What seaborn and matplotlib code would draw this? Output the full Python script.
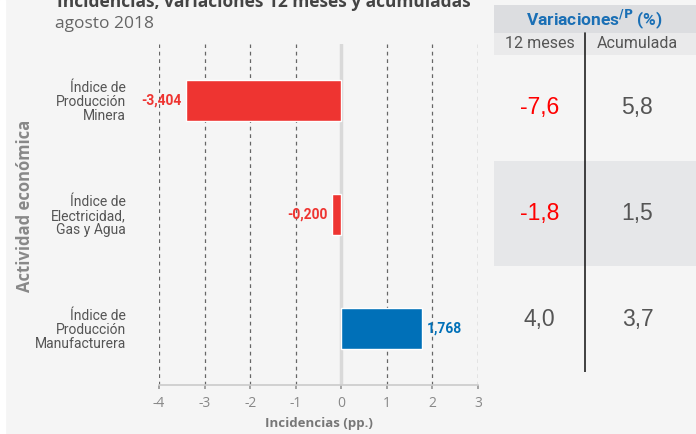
import numpy as np
import pandas as pd
import matplotlib.pyplot as plt
import seaborn as sns

sns.set_theme(style="white")
plt.rcParams['font.family'] = ['Open Sans', 'DejaVu Sans']
plt.rcParams['axes.unicode_minus'] = False

categorias = ['Índice de\nProducción\nMinera',
              'Índice de\nElectricidad,\nGas y Agua',
              'Índice de\nProducción\nManufacturera']
incidencias = [-3.404, -0.200, 1.768]
var_12m = [-7.6, -1.8, 4.0]
var_acum = [5.8, 1.5, 3.7]
xticks = [-4, -3, -2, -1, 0, 1, 2, 3]

FONDO = '#f5f5f5'
ROJO = '#ee3431'
AZUL = '#0070b8'
ESTRECHA = ['Liberation Sans Narrow', 'Roboto', 'DejaVu Sans']


def coma(v, d):
    return f"{v:.{d}f}".replace('.', ',')


df = pd.DataFrame({'Actividad': categorias, 'Incidencia': incidencias})
colores = [ROJO if v < 0 else AZUL for v in incidencias]

W, H = 696, 434
fig = plt.figure(figsize=(W / 100, H / 100), dpi=100)
fig.patch.set_facecolor(FONDO)
fig.patches.append(plt.Rectangle((0, 0), 5 / W, 1, transform=fig.transFigure,
                                 color='white', zorder=0))

# --- grafico de barras ---
ax = fig.add_axes([159 / W, 1 - 385 / H, (478 - 159) / W, (385 - 44) / H])
ax.set_facecolor(FONDO)
sns.barplot(data=df, x='Incidencia', y='Actividad', hue='Actividad',
            palette=colores, width=0.36, orient='h', legend=False,
            saturation=1, ax=ax, zorder=2)
ax.set_xlim(-4, 3)
ax.set_ylim(2.5, -0.5)

for t in xticks:
    if t == 0:
        ax.axvline(t, color='#d9d9d9', lw=2.5, zorder=1)
    else:
        ax.axvline(t, color='#666666', lw=0.9, ls=(0, (3, 3)), zorder=0)

for i, v in enumerate(incidencias):
    if v < 0:
        ax.text(v - 0.1, i, coma(v, 3), ha='right', va='center', color=ROJO,
                fontweight='bold', fontsize=10, family=ESTRECHA, zorder=3)
    else:
        ax.text(v + 0.1, i, coma(v, 3), ha='left', va='center', color=AZUL,
                fontweight='bold', fontsize=10, family=ESTRECHA, zorder=3)

for s in ['top', 'right', 'left']:
    ax.spines[s].set_visible(False)
ax.spines['bottom'].set_color('#cccccc')
ax.set_xticks(xticks)
ax.set_xticklabels([str(t) for t in xticks])
ax.tick_params(axis='x', bottom=True, length=3, color='#999999',
               labelcolor='#888888', labelsize=10, pad=5)
ax.tick_params(axis='y', length=0, pad=24, labelsize=10, labelcolor='#555555')
for lbl in ax.get_yticklabels():
    lbl.set_family(ESTRECHA)
    lbl.set_linespacing(1.0)
    lbl.set_ha('right')
ax.set_ylabel('')
ax.set_xlabel('Incidencias (pp.)', fontweight='bold', color='#777777',
              fontsize=9.5, labelpad=4)

fig.text(25 / W, 1 - 206 / H, 'Actividad económica', rotation=90,
         ha='center', va='center', fontweight='bold', color='#888888',
         fontsize=12)

# --- titulo ---
fig.text(57 / W, 1 - 7 / H, 'Incidencias, variaciones 12 meses y acumuladas',
         fontweight='bold', color='#444444', fontsize=12.5, va='baseline')
fig.text(55 / W, 1 - 28 / H, 'agosto 2018', color='#666666', fontsize=12.5,
         va='baseline')

# --- tabla de variaciones ---
fila = (372 - 55) / 3
top_tab = -0.5 - (55 - 5) / fila
sub_tab = -0.5 - (55 - 33) / fila
at = fig.add_axes([494 / W, 1 - 372 / H, (W - 494) / W, (372 - 5) / H])
at.set_facecolor(FONDO)
at.set_xlim(0, 2)
at.set_ylim(2.5, top_tab)
at.axis('off')
at.axhspan(top_tab, sub_tab, color='#dcdde0', lw=0)
at.axhspan(sub_tab, -0.5, color='#eaeaeb', lw=0)
at.axhspan(0.5, 1.5, color='#e6e7e9', lw=0)
at.plot([0.9, 0.9], [sub_tab, 2.5], color='#222222', lw=1.2)

at.text(1, (top_tab + sub_tab) / 2, r'Variaciones$^{\mathbf{/P}}$ (%)',
        ha='center', va='center', color='#1a6fb5', fontweight='bold',
        fontsize=12.5, family=ESTRECHA)
at.text(0.45, (sub_tab - 0.5) / 2, '12 meses', ha='center', va='center',
        color='#555555', fontsize=11.5, family=ESTRECHA)
at.text(1.42, (sub_tab - 0.5) / 2, 'Acumulada', ha='center', va='center',
        color='#555555', fontsize=11.5, family=ESTRECHA)

for i, (a, b) in enumerate(zip(var_12m, var_acum)):
    at.text(0.45, i, coma(a, 1), ha='center', va='center', fontsize=16.5,
            color='#ff0000' if a < 0 else '#555555',
            family=['Liberation Sans', 'DejaVu Sans'])
    at.text(1.42, i, coma(b, 1), ha='center', va='center', fontsize=16.5,
            color='#ff0000' if b < 0 else '#555555',
            family=['Liberation Sans', 'DejaVu Sans'])

plt.savefig('out.png', dpi=100, facecolor=fig.get_facecolor())
